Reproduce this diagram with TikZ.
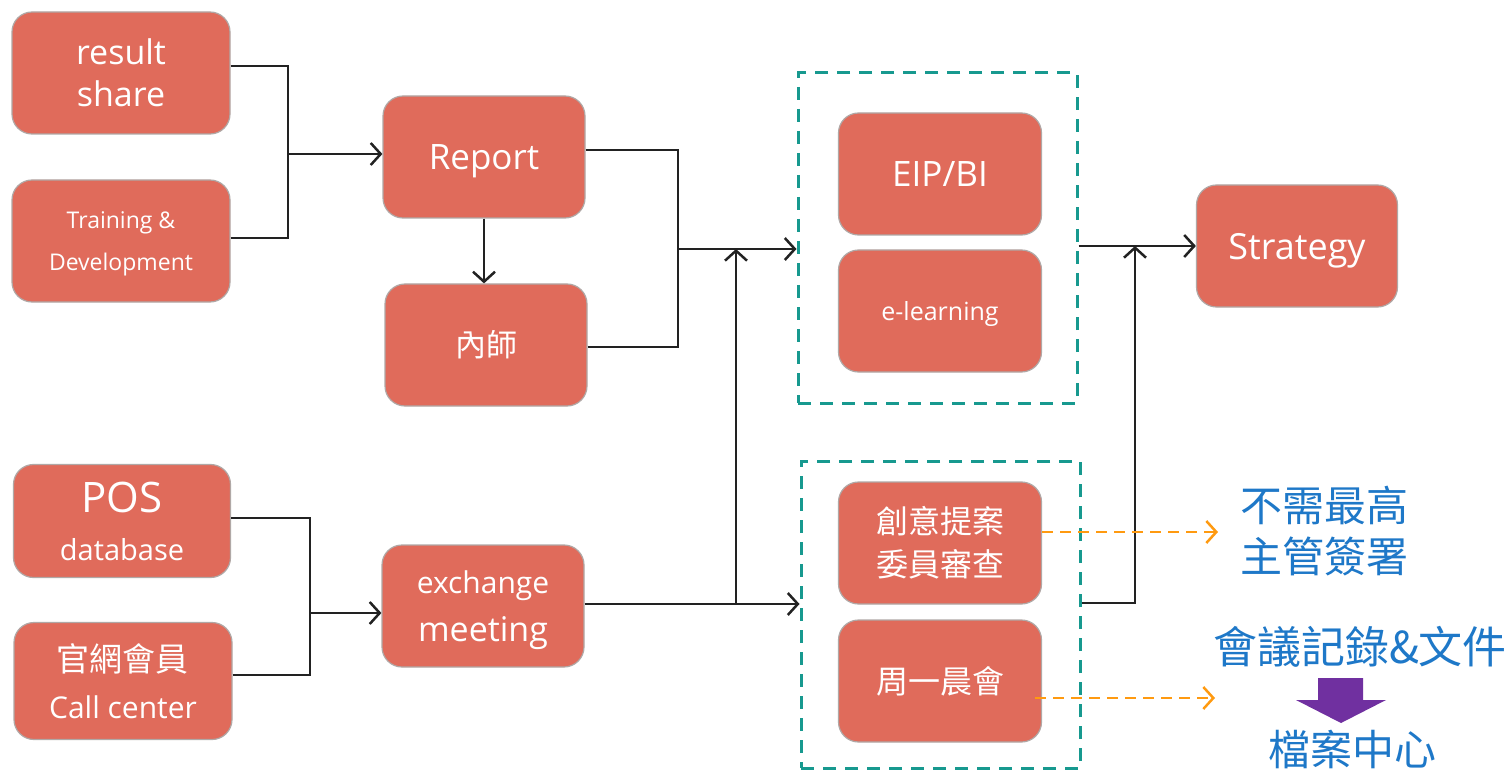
\documentclass[tikz,border=0pt]{standalone}
\usepackage{fontspec}
\setmainfont{Open Sans}
\newfontfamily\cjk{Noto Sans CJK TC}
\usetikzlibrary{arrows.meta}
\definecolor{boxfill}{HTML}{E06B5B}
\definecolor{boxline}{HTML}{B0A8A6}
\definecolor{tealdash}{HTML}{17998F}
\definecolor{orangedash}{HTML}{FF9A10}
\definecolor{bluetxt}{HTML}{1E78C8}
\definecolor{purplearr}{HTML}{7030A0}
\definecolor{linec}{HTML}{222222}
\newcommand{\fs}[2]{\fontsize{#1}{#2}\selectfont}
\tikzset{
  box/.style={rectangle, rounded corners=20pt, fill=boxfill, draw=boxline, line width=1.2pt,
    text=white, align=center, inner sep=0pt},
  grp/.style={rectangle, draw=tealdash, line width=3pt, dash pattern=on 13pt off 9pt, inner sep=0pt},
  conn/.style={draw=linec, line width=2.5pt},
  arr/.style={conn, -{Straight Barb[length=10pt,width=22pt,line width=2.5pt]}},
  oarr/.style={draw=orangedash, line width=2.5pt, dash pattern=on 11pt off 7pt,
    -{Straight Barb[length=10pt,width=22pt,line width=2.5pt]}},
  note/.style={text=bluetxt, align=center, inner sep=0pt, font=\cjk\fs{42}{51}}
}
\begin{document}
\begin{tikzpicture}[x=1pt,y=-1pt]
\useasboundingbox (0,0) rectangle (1508,770);
\fill[white] (0,0) rectangle (1508,770);
% group boxes
\node[grp, minimum width=279pt, minimum height=330pt] (box1) at (937.5,238) {};
\node[grp, minimum width=279pt, minimum height=307pt] (box2) at (940.5,614.5) {};
% boxes
\node[box, minimum width=218pt, minimum height=122pt, font=\fs{34}{42}] (rs) at (121,73) {result\\share};
\node[box, minimum width=218pt, minimum height=122pt, font=\fs{23}{42}, text depth=0pt] (td) at (121,241) {Training \&\\Development};
\node[box, minimum width=202pt, minimum height=122pt, font=\fs{35}{42}, text depth=0pt] (rep) at (484,157) {Report};
\node[box, minimum width=202pt, minimum height=122pt, font=\cjk\fs{31}{40}] (nei) at (486,345) {內師};
\node[box, minimum width=217pt, minimum height=113pt, font=\fs{42}{48}] (pos) at (122,521) {POS\\\fs{29}{48}database};
\node[box, minimum width=218pt, minimum height=117pt, font=\fs{30}{47}] (gw) at (123,681) {{\cjk\fs{33}{47}官網會員}\\Call center};
\node[box, minimum width=202pt, minimum height=122pt, font=\fs{30}{48}, text depth=0pt] (ex) at (483,606) {exchange\\\fs{34}{48}meeting};
\node[box, minimum width=203pt, minimum height=122pt, font=\fs{35}{42}] (eip) at (940,174) {EIP/BI};
\node[box, minimum width=203pt, minimum height=122pt, font=\fs{25}{30}, text depth=0pt] (el) at (940,311) {e-learning};
\node[box, minimum width=203pt, minimum height=122pt, font=\cjk\fs{32}{43}] (cy) at (940,543) {創意提案\\委員審查};
\node[box, minimum width=203pt, minimum height=122pt, font=\cjk\fs{32}{40}] (zy) at (940,681) {周一晨會};
\node[box, minimum width=201pt, minimum height=122pt, font=\fs{36}{42}, text depth=0pt] (st) at (1297,246) {Strategy};
% junctions
\coordinate (j1) at (288,154);
\coordinate (j2) at (678,249);
\coordinate (j3) at (736,604);
\coordinate (j4) at (1135,246);
\coordinate (j5) at (310,613);
\coordinate (o1) at (1218,532);
\coordinate (o2) at (1215,698);
% connectors
\draw[conn] ([yshift=7pt]rs.east) -| (j1);
\draw[conn] ([yshift=3pt]td.east) -| (j1);
\draw[arr] (j1) -- (j1 -| rep.west);
\draw[arr] (rep.south) -- (rep.south |- nei.north);
\draw[conn] ([yshift=7pt]rep.east) -| (j2);
\draw[conn] ([yshift=-2pt]nei.east) -| (j2);
\draw[arr] (j2) -- (j2 -| box1.west);
\draw[arr] ([yshift=2pt]ex.east) -- (j3 -| box2.west);
\draw[arr] (j3) -- (j3 |- j2);
\draw[conn] ([yshift=3pt]pos.east) -| (j5);
\draw[conn] ([yshift=6pt]gw.east) -| (j5);
\draw[arr] (j5) -- (j5 -| ex.west);
\draw[arr] ([yshift=-8pt]box1.east) -- (st.west);
\draw[arr] ([yshift=11.5pt]box2.east) -| (j4);
\draw[oarr] ([yshift=11pt]cy.east) -- (o1);
\draw[oarr] ([xshift=-7pt,yshift=-17pt]zy.east) -- (o2);
% notes
\node[note] (t1) at (1324.5,531) {不需最高\\主管簽署};
\node[note, font=\cjk\fs{44}{51}] (t2) at (1360,647) {會議記錄\&文件};
\node[note] (t3) at (1352,749) {檔案中心};
\fill[purplearr] (1318,678) -- (1363,678) -- (1363,700) -- (1386,700) -- (1341,723) -- (1296,700) -- (1318,700) -- cycle;
\end{tikzpicture}
\end{document}
